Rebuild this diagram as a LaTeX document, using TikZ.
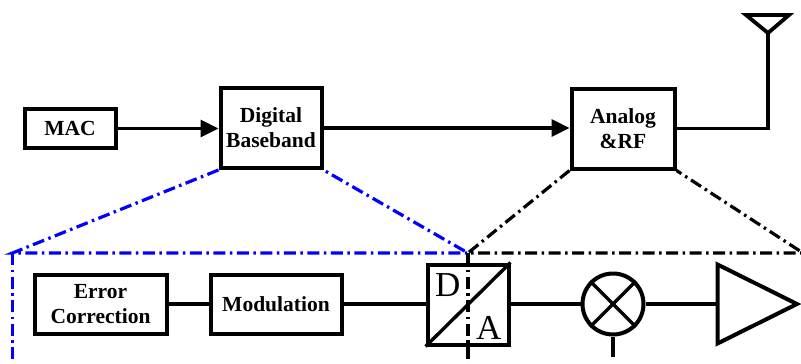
\documentclass[tikz,border=0pt]{standalone}
\usepackage{fontspec}
\setmainfont{Liberation Serif}
\usetikzlibrary{arrows.meta}
\begin{document}
\begin{tikzpicture}[x=1pt,y=-1pt,
  blk/.style={draw, line width=4pt, rectangle, inner sep=0pt, align=center,
    font=\fontsize{21.5}{25}\selectfont\bfseries},
  conn/.style={line width=3.4pt},
  arr/.style={conn, -{Triangle[length=18pt,width=17pt]}},
  dd/.style={line width=3.2pt, dash pattern=on 12pt off 4.5pt on 2.5pt off 4.5pt},
  bluedd/.style={dd, draw=blue},
  blackdd/.style={dd, draw=black},
  bigtxt/.style={font=\fontsize{35}{35}\selectfont, inner sep=0pt, anchor=base west}
]
\useasboundingbox (0,0) rectangle (801,364);

% top row
\node[blk, minimum width=91pt, minimum height=39pt] (mac) at (70,128.5) {MAC};
\node[blk, minimum width=101pt, minimum height=80pt] (db) at (271,128) {Digital\\Baseband};
\node[blk, minimum width=103pt, minimum height=80pt] (rf) at (623,128.5) {Analog\\\&RF};

\draw[arr] (mac.east) -- (mac.east -| db.west);
\draw[arr] (db.east) -- (db.east -| rf.west);

\coordinate (antbase) at (768,33);
\coordinate (antcorner) at (768,128.5);
\draw[conn, line width=3.6pt] (rf.east) -- (antcorner) -- (antbase);
\draw[line width=3.8pt, line join=miter] (746,15) -- (789,15) -- (antbase) -- cycle;

% bottom row
\node[blk, minimum width=132pt, minimum height=59pt] (ec) at (100.5,304) {Error\\Correction};
\node[blk, minimum width=131pt, minimum height=59pt] (mod) at (276,304) {Modulation};
\node[draw, line width=4pt, rectangle, minimum width=81pt, minimum height=80pt, inner sep=0pt] (da) at (468,304.5) {};
\draw[line width=3.4pt] (da.south west) -- (da.north east);
\node[bigtxt] (dtxt) at (435,296) {D};
\node[bigtxt] (atxt) at (476,339) {A};

\node[draw, circle, line width=4pt, minimum size=61pt, inner sep=0pt] (mix) at (613,304) {};
\draw[line width=3.4pt] (mix.north west) -- (mix.south east);
\draw[line width=3.4pt] (mix.north east) -- (mix.south west);
\coordinate (lo) at (613,357);
\draw[conn] (mix.south) -- (lo);

\coordinate (ampin) at (717.5,304);
\draw[line width=4pt, line join=miter] (717.5,264.5) -- (717.5,343.5) -- (797,304) -- cycle;

\draw[conn] (ec.east) -- (mod.west);
\draw[conn] (mod.east) -- (mod.east -| da.west);
\draw[conn] (da.east |- mix.west) -- (mix.west);
\draw[conn] (mix.east) -- (ampin);

% zoom outlines
\coordinate (bl) at (12.5,253);
\coordinate (bm) at (468,253);
\coordinate (br) at (803,253);
\coordinate (bbot) at (12.5,366);
\coordinate (mbot) at (468,366);

\draw[blackdd] (rf.south west) -- (bm) -- (br) -- (rf.south east);
\draw[blackdd] (bm) -- (mbot);
\draw[bluedd] (db.south west) -- (bl) -- (bm) -- (db.south east);
\draw[bluedd] (bl) -- (bbot);
\end{tikzpicture}
\end{document}
